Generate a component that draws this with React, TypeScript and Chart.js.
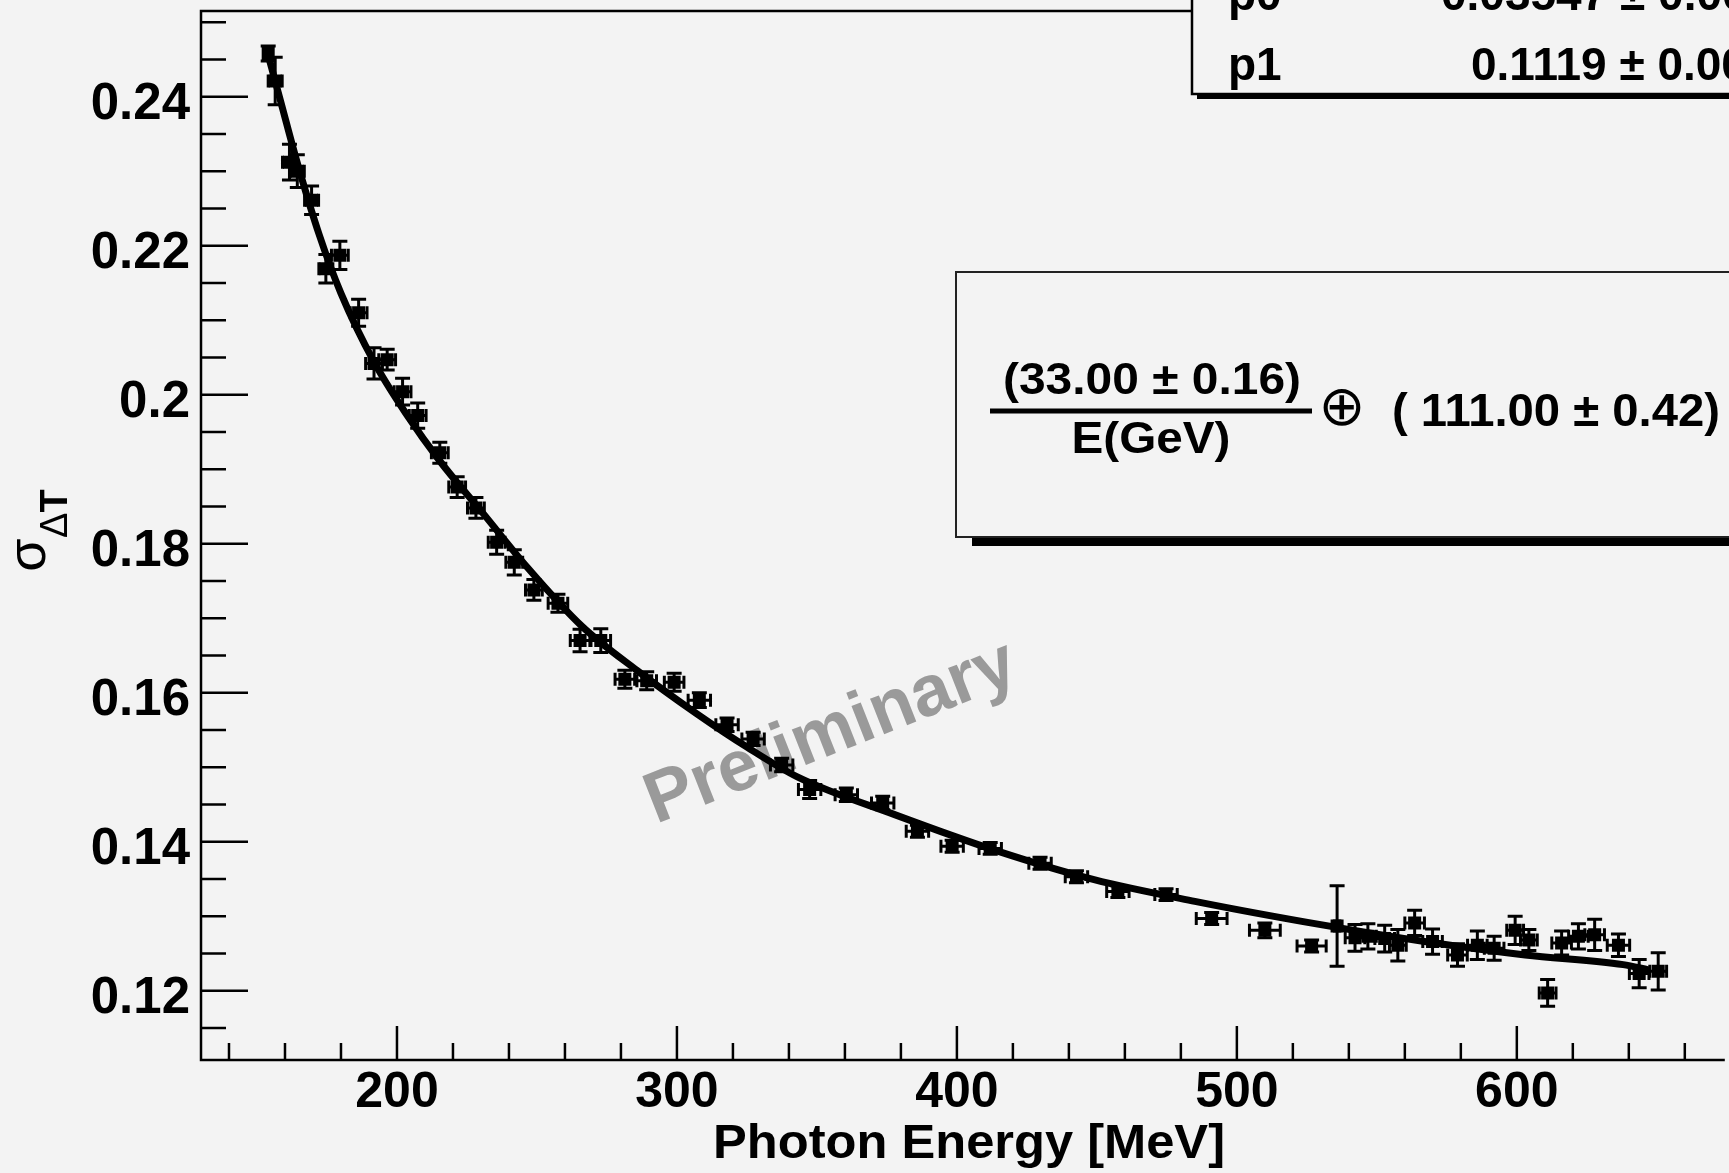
import React, { useEffect, useRef } from "react";
import { Chart, registerables } from "chart.js";

Chart.register(...registerables);

// ---------- data ----------
const energyMeV = [
  154.0, 156.5, 161.6, 164.4, 169.5, 174.6, 179.6, 186.3, 191.8, 196.5,
  202.0, 207.4, 215.3, 221.5, 228.2, 235.6, 241.9, 248.9, 257.5, 265.4,
  272.8, 281.4, 289.2, 299.0, 308.0, 317.9, 327.2, 337.4, 347.4, 360.5,
  373.5, 385.9, 398.3, 411.9, 429.7, 442.7, 457.5, 474.7, 491.0, 510.0,
  526.7, 535.8, 542.2, 546.8, 552.8, 557.5, 563.5, 569.9, 578.8, 585.9,
  591.9, 599.4, 604.3, 611.0, 616.0, 622.0, 627.8, 636.3, 643.7, 650.5,
];
const sigmaDT = [
  0.2458, 0.2421, 0.2312, 0.2300, 0.2261, 0.2169, 0.2187, 0.2110, 0.2042, 0.2047,
  0.2004, 0.1972, 0.1922, 0.1876, 0.1848, 0.1802, 0.1775, 0.1738, 0.1720, 0.1670,
  0.1670, 0.1618, 0.1616, 0.1614, 0.1590, 0.1557, 0.1538, 0.1503, 0.1470, 0.1463,
  0.1452, 0.1414, 0.1394, 0.1391, 0.1371, 0.1353, 0.1333, 0.1329, 0.1297, 0.1281,
  0.1260, 0.1287, 0.1271, 0.1273, 0.1270, 0.1261, 0.1291, 0.1266, 0.1248, 0.1261,
  0.1257, 0.1281, 0.1268, 0.1197, 0.1264, 0.1273, 0.1275, 0.1261, 0.1223, 0.1226,
];
const errEnergy = [
  1.5, 2.5, 2.5, 2.5, 2.5, 2.5, 3, 3, 3, 3,
  3, 3, 3, 3, 3, 3, 3, 3, 3.5, 3.5,
  3.5, 3.5, 3.5, 3.5, 4, 4, 4, 4, 4, 4,
  4, 4, 4, 4, 4, 4, 4, 4, 5.5, 5.5,
  5.2, 1, 3.5, 3, 3.5, 3, 3.5, 3.5, 3.5, 3.5,
  3.5, 3, 3, 3, 3.5, 3.5, 3.5, 4, 3.5, 3,
];
const errSigma = [
  0.0010, 0.0032, 0.0024, 0.0022, 0.0019, 0.0019, 0.0019, 0.0018, 0.0021, 0.0014,
  0.0018, 0.0017, 0.0014, 0.0014, 0.0014, 0.0016, 0.0017, 0.0014, 0.0012, 0.0015,
  0.0016, 0.0012, 0.0012, 0.0012, 0.0010, 0.0009, 0.0009, 0.0009, 0.0012, 0.0009,
  0.0009, 0.0008, 0.0008, 0.0008, 0.0008, 0.0008, 0.0008, 0.0008, 0.0008, 0.0010,
  0.0008, 0.0054, 0.0018, 0.0017, 0.0018, 0.0021, 0.0017, 0.0017, 0.0015, 0.0019,
  0.0016, 0.0019, 0.0014, 0.0018, 0.0016, 0.0017, 0.0021, 0.0015, 0.0019, 0.0025,
];

// fitted curve, points
const fitEnergy = [
  153.4, 158.5, 164.4, 172.2, 180, 191.8, 203.5, 215.3, 230.9, 246.6, 266.1, 285.7,
  307, 325, 343, 378, 414, 449, 485, 531, 567, 603, 638, 647,
];
const fitSigma = [
  0.2464, 0.2393, 0.2311, 0.2215, 0.2136, 0.2044, 0.1973, 0.1911, 0.1840, 0.1768, 0.1689, 0.1630,
  0.1572, 0.1527, 0.1487, 0.1436, 0.1388, 0.1349, 0.1320, 0.1288, 0.1266, 0.1248, 0.1235, 0.1228,
];

// axes
const xMajorTicks = [200, 300, 400, 500, 600];
const xMajorLabels = ["200", "300", "400", "500", "600"];
const xMinorTicks = [
  140, 160, 180, 220, 240, 260, 280, 320, 340, 360, 380, 420, 440, 460, 480,
  520, 540, 560, 580, 620, 640, 660,
];
const yMajorTicks = [0.12, 0.14, 0.16, 0.18, 0.2, 0.22, 0.24];
const yMajorLabels = ["0.12", "0.14", "0.16", "0.18", "0.2", "0.22", "0.24"];
const yMinorTicks = [
  0.115, 0.125, 0.13, 0.135, 0.145, 0.15, 0.155, 0.165, 0.17, 0.175, 0.185, 0.19,
  0.195, 0.205, 0.21, 0.215, 0.225, 0.23, 0.235, 0.245, 0.25,
];

const xTitle = "Photon Energy [MeV]";
const statNames = ["p0", "p1"];
const statValues = ["0.03547 ± 0.00019", "0.1119 ± 0.0004"];
const formulaNumerator = "(33.00 ± 0.16)";
const formulaDenominator = "E(GeV)";
const formulaConstant = "( 111.00 ± 0.42)";
const watermark = "Preliminary";

const BG = "#f3f3f3";
const FONT = '"Liberation Sans", Arial, Helvetica, sans-serif';

function drawText(
  ctx: CanvasRenderingContext2D,
  text: string,
  x: number,
  y: number,
  font: string,
  align: CanvasTextAlign,
  targetWidth?: number
) {
  ctx.save();
  ctx.font = font;
  const w = ctx.measureText(text).width;
  const sx = targetWidth ? targetWidth / w : 1;
  ctx.translate(x, y);
  ctx.scale(sx, 1);
  ctx.textAlign = align;
  ctx.textBaseline = "alphabetic";
  ctx.fillText(text, 0, 0);
  ctx.restore();
}

const backgroundPlugin = {
  id: "bg",
  beforeDraw(chart: any) {
    const { ctx, width, height } = chart;
    ctx.save();
    ctx.fillStyle = BG;
    ctx.fillRect(0, 0, width, height);
    ctx.restore();
  },
};

const underlayPlugin = {
  id: "underlay",
  beforeDatasetsDraw(chart: any) {
    const { ctx, chartArea } = chart;
    const xs = chart.scales.x;
    const ys = chart.scales.y;
    // watermark
    ctx.save();
    ctx.fillStyle = "#9a9a9a";
    ctx.translate(656, 824);
    ctx.rotate((-21.5 * Math.PI) / 180);
    ctx.font = `bold 72px ${FONT}`;
    ctx.textAlign = "left";
    ctx.textBaseline = "alphabetic";
    ctx.fillText(watermark, 0, 0);
    ctx.restore();

    // error bars
    ctx.save();
    ctx.beginPath();
    ctx.rect(chartArea.left, chartArea.top, chartArea.right - chartArea.left, chartArea.bottom - chartArea.top);
    ctx.clip();
    ctx.strokeStyle = "#000";
    ctx.lineWidth = 3;
    for (let i = 0; i < energyMeV.length; i++) {
      const px = xs.getPixelForValue(energyMeV[i]);
      const py = ys.getPixelForValue(sigmaDT[i]);
      const x0 = xs.getPixelForValue(energyMeV[i] - errEnergy[i]);
      const x1 = xs.getPixelForValue(energyMeV[i] + errEnergy[i]);
      const y0 = ys.getPixelForValue(sigmaDT[i] - errSigma[i]);
      const y1 = ys.getPixelForValue(sigmaDT[i] + errSigma[i]);
      ctx.beginPath();
      ctx.moveTo(x0, py);
      ctx.lineTo(x1, py);
      ctx.moveTo(x0, py - 6.5);
      ctx.lineTo(x0, py + 6.5);
      ctx.moveTo(x1, py - 6.5);
      ctx.lineTo(x1, py + 6.5);
      ctx.moveTo(px, y0);
      ctx.lineTo(px, y1);
      ctx.moveTo(px - 7.5, y0);
      ctx.lineTo(px + 7.5, y0);
      ctx.moveTo(px - 7.5, y1);
      ctx.lineTo(px + 7.5, y1);
      ctx.stroke();
    }
    ctx.restore();
  },
};

const overlayPlugin = {
  id: "overlay",
  afterDraw(chart: any) {
    const { ctx, chartArea } = chart;
    const xs = chart.scales.x;
    const ys = chart.scales.y;
    const L = chartArea.left;
    const T = chartArea.top;
    const B = chartArea.bottom;
    const R = chartArea.right;

    ctx.save();
    ctx.strokeStyle = "#000";
    ctx.fillStyle = "#000";
    ctx.lineWidth = 2.5;
    // frame
    ctx.beginPath();
    ctx.moveTo(R + 5, T);
    ctx.lineTo(L, T);
    ctx.lineTo(L, B);
    ctx.lineTo(R + 5, B);
    ctx.stroke();

    // y ticks
    ctx.beginPath();
    for (const v of yMajorTicks) {
      const py = ys.getPixelForValue(v);
      ctx.moveTo(L, py);
      ctx.lineTo(L + 47, py);
    }
    for (const v of yMinorTicks) {
      const py = ys.getPixelForValue(v);
      ctx.moveTo(L, py);
      ctx.lineTo(L + 25, py);
    }
    // x ticks
    for (const v of xMajorTicks) {
      const px = xs.getPixelForValue(v);
      ctx.moveTo(px, B);
      ctx.lineTo(px, B - 34);
    }
    for (const v of xMinorTicks) {
      const px = xs.getPixelForValue(v);
      ctx.moveTo(px, B);
      ctx.lineTo(px, B - 17);
    }
    ctx.stroke();

    // tick labels
    const labelFont = `bold 51px ${FONT}`;
    yMajorTicks.forEach((v, i) => {
      const py = ys.getPixelForValue(v);
      drawText(ctx, yMajorLabels[i], 190, py + 22, labelFont, "right");
    });
    xMajorTicks.forEach((v, i) => {
      const px = xs.getPixelForValue(v);
      drawText(ctx, xMajorLabels[i], px, 1107, `bold 50px ${FONT}`, "center");
    });

    // axis titles
    drawText(ctx, xTitle, 969, 1158, `bold 49px ${FONT}`, "center", 512);
    ctx.save();
    ctx.translate(31, 555);
    ctx.rotate(-Math.PI / 2);
    ctx.textBaseline = "alphabetic";
    ctx.textAlign = "center";
    ctx.font = `54px ${FONT}`;
    ctx.fillText("σ", 0, 14);
    ctx.textAlign = "left";
    ctx.font = `38px ${FONT}`;
    ctx.fillText("Δ", 17, 36);
    const dw = ctx.measureText("Δ").width;
    ctx.font = `bold 38px ${FONT}`;
    ctx.fillText("T", 17 + dw, 36);
    ctx.restore();

    // ---- stats box (top right) ----
    ctx.fillStyle = "#000";
    ctx.fillRect(1197, -20, 700, 119);
    ctx.fillStyle = BG;
    ctx.fillRect(1192, -25, 700, 119);
    ctx.strokeStyle = "#000";
    ctx.lineWidth = 2.5;
    ctx.strokeRect(1192, -25, 700, 119);
    ctx.fillStyle = "#000";
    const statFont = `bold 46px ${FONT}`;
    drawText(ctx, statNames[0], 1228, 10, statFont, "left");
    drawText(ctx, statNames[1], 1228, 80, statFont, "left");
    drawText(ctx, statValues[0], 1441, 10, statFont, "left");
    drawText(ctx, statValues[1], 1471, 80, statFont, "left");

    // ---- formula box ----
    ctx.fillStyle = "#000";
    ctx.fillRect(972, 282, 900, 264);
    ctx.fillStyle = BG;
    ctx.fillRect(956, 272, 900, 265);
    ctx.lineWidth = 2;
    ctx.strokeStyle = "#222";
    ctx.strokeRect(956, 272, 900, 265);
    ctx.fillStyle = "#000";
    drawText(ctx, formulaNumerator, 1152, 394, `bold 45px ${FONT}`, "center", 298);
    ctx.fillRect(990, 408.5, 322, 5);
    drawText(ctx, formulaDenominator, 1151, 453, `bold 45px ${FONT}`, "center", 159);
    ctx.font = `56px "DejaVu Sans", sans-serif`;
    ctx.textAlign = "center";
    ctx.textBaseline = "middle";
    ctx.fillText("⊕", 1342, 410);
    drawText(ctx, formulaConstant, 1392, 426, `bold 46px ${FONT}`, "left", 328);
    ctx.restore();
  },
};

export default function App() {
  const canvasRef = useRef<HTMLCanvasElement | null>(null);

  useEffect(() => {
    const canvas = canvasRef.current;
    if (!canvas) return;
    const points = energyMeV.map((e, i) => ({ x: e, y: sigmaDT[i] }));
    const fit = fitEnergy.map((e, i) => ({ x: e, y: fitSigma[i] }));
    const chart = new Chart(canvas, {
      type: "scatter",
      data: {
        datasets: [
          {
            type: "line",
            label: "fit",
            data: fit,
            borderColor: "#000",
            borderWidth: 7,
            pointRadius: 0,
            fill: false,
            cubicInterpolationMode: "monotone",
            order: 0,
          } as any,
          {
            type: "scatter",
            label: "data",
            data: points,
            pointStyle: "rect",
            pointRadius: 9.2,
            pointHoverRadius: 9.2,
            backgroundColor: "#000",
            borderColor: "#000",
            borderWidth: 0,
            order: 1,
          } as any,
        ],
      },
      options: {
        animation: false,
        responsive: false,
        maintainAspectRatio: false,
        devicePixelRatio: 1,
        layout: { padding: { top: 11, left: 0, right: 0, bottom: 0 } },
        plugins: {
          legend: { display: false },
          tooltip: { enabled: false },
          title: { display: false },
        },
        events: [],
        scales: {
          x: {
            type: "linear",
            min: 130,
            max: 672.5,
            grid: { display: false, drawTicks: false },
            border: { display: false },
            ticks: { display: false },
            afterFit: (s: any) => {
              s.height = 113;
            },
          },
          y: {
            type: "linear",
            min: 0.1107,
            max: 0.2515,
            grid: { display: false, drawTicks: false },
            border: { display: false },
            ticks: { display: false },
            afterFit: (s: any) => {
              s.width = 201;
            },
          },
        },
      } as any,
      plugins: [backgroundPlugin, underlayPlugin, overlayPlugin],
    });
    return () => chart.destroy();
  }, []);

  return (
    <div
      style={{
        position: "fixed",
        left: 0,
        top: 0,
        width: 1729,
        height: 1173,
        overflow: "hidden",
        background: BG,
      }}
    >
      <canvas ref={canvasRef} width={1729} height={1173} style={{ display: "block", width: 1729, height: 1173 }} />
    </div>
  );
}
